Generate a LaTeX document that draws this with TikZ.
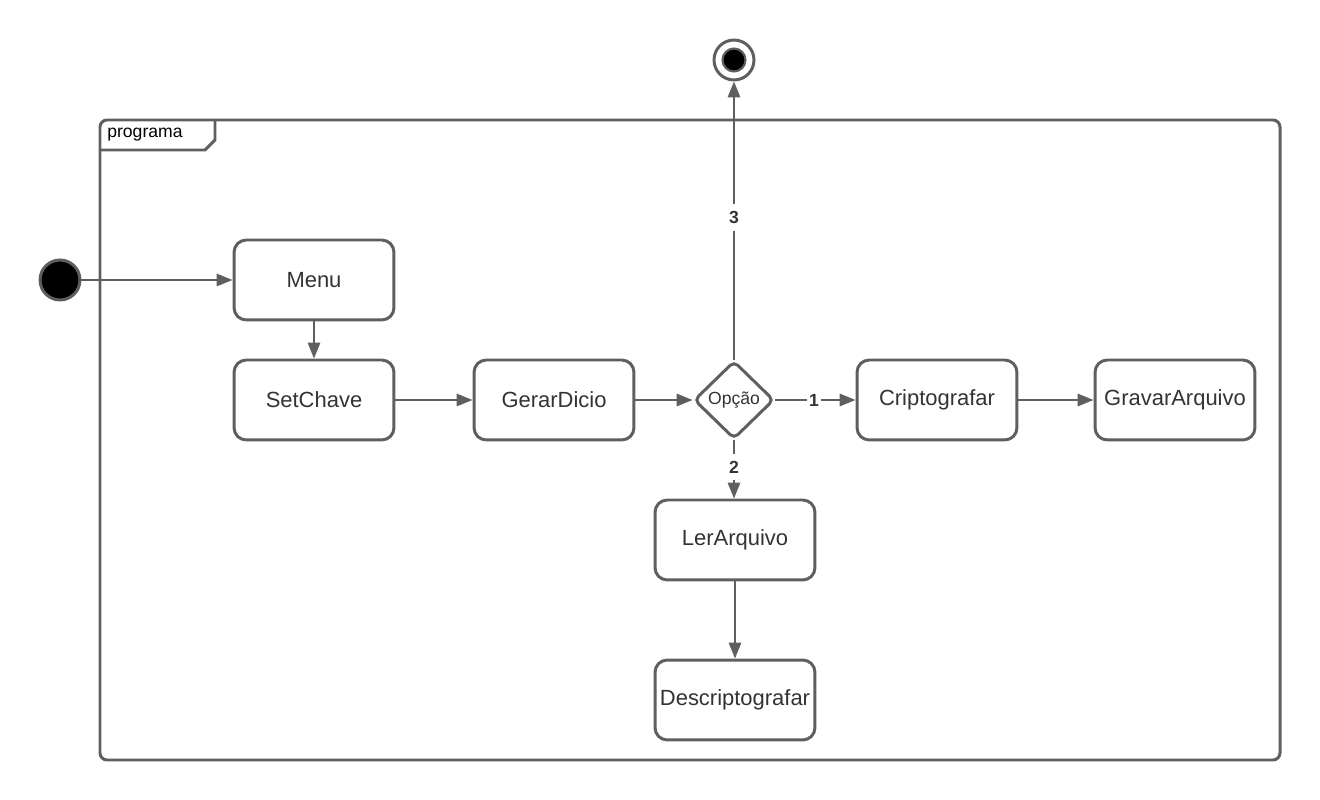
\documentclass[tikz,border=0pt]{standalone}
\usepackage{fontspec}
\setmainfont{Liberation Sans}
\usetikzlibrary{arrows.meta,shapes.geometric}
\definecolor{lin}{HTML}{5F5F5F}
\definecolor{txt}{HTML}{333333}

\begin{document}
\begin{tikzpicture}[x=0.02cm,y=-0.02cm,
   act/.style={draw=lin,line width=1.7pt,fill=white,rounded corners=7pt,
      minimum width=3.2cm,minimum height=1.6cm,inner sep=0pt,
      text=txt,font=\fontsize{12.5}{14}\selectfont},
   choice/.style={diamond,draw=lin,line width=1.7pt,fill=white,rounded corners=3pt,
      minimum width=1.6cm,minimum height=1.56cm,inner sep=0pt,
      text=txt,font=\fontsize{10}{12}\selectfont},
   start/.style={circle,draw=lin,line width=1.7pt,fill=black,minimum size=0.8cm,inner sep=0pt},
   stop/.style={circle,draw=lin,line width=1.7pt,fill=white,minimum size=0.8cm,inner sep=0pt},
   stopcore/.style={circle,draw=lin,line width=1.2pt,fill=black,minimum size=0.46cm,inner sep=0pt},
   flow/.style={draw=lin,line width=1.1pt,-{Triangle[length=9pt,width=7pt]}},
   lbl/.style={fill=white,text=txt,inner xsep=1pt,inner ysep=4pt,
      font=\bfseries\fontsize{10}{12}\selectfont}]
\useasboundingbox (0,0) rectangle (1320,800);

% frame
\draw[lin,line width=1.7pt,rounded corners=4pt] (100,120) rectangle (1280,760);
\draw[lin,line width=1.7pt] (100,150) -- (205,150) -- (215,140) -- (215,120);
\node[anchor=west,inner sep=0pt,text=black,font=\fontsize{10}{12}\selectfont] (frame) at (107,135) {programa};

% nodes
\node[start] (ini) at (60,280) {};
\node[act] (menu) at (314,280) {Menu};
\node[act] (chave) at (314,400) {SetChave};
\node[act] (dicio) at (554,400) {GerarDicio};
\node[choice] (opc) at (734,400) {Opção};
\node[act] (cripto) at (937,400) {Criptografar};
\node[act] (gravar) at (1175,400) {GravarArquivo};
\node[act] (ler) at (735,540) {LerArquivo};
\node[act] (descr) at (735,700) {Descriptografar};
\node[stop] (fim) at (734,60) {};
\node[stopcore] (fimc) at (fim) {};

% edges
\draw[flow] (ini) -- (menu);
\draw[flow] (menu) -- (chave);
\draw[flow] (chave) -- (dicio);
\draw[flow] (dicio) -- (opc);
\draw[flow] (opc) -- node[lbl,pos=.48] {1} (cripto);
\draw[flow] (cripto) -- (gravar);
\draw[flow] (opc.south) -- node[lbl,pos=.46] {2} (opc.south |- ler.north);
\draw[flow] (ler) -- (descr);
\draw[flow] (opc) -- node[lbl,pos=.51] {3} (fim);
\end{tikzpicture}
\end{document}
